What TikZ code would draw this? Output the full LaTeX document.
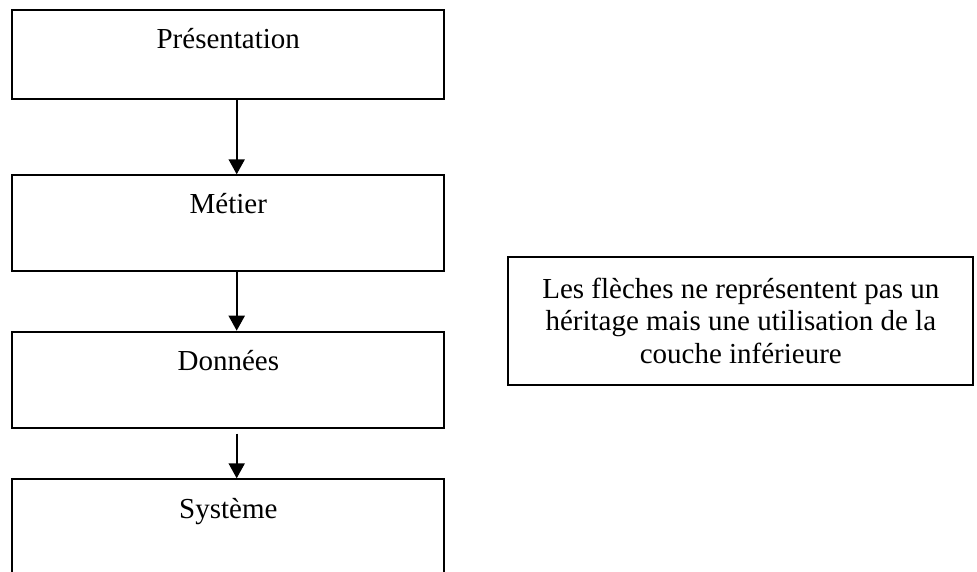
\documentclass[tikz,border=0pt]{standalone}
\usepackage{fontspec}
\setmainfont{Liberation Serif}
\usetikzlibrary{arrows.meta}
\begin{document}
\begin{tikzpicture}
  [x=1pt,y=-1pt,every node/.style={font=\fontsize{29}{32.5}\selectfont},
   layer/.style={draw,line width=2pt,inner sep=0pt,minimum width=432pt,anchor=north,text height=38.7pt},
   link/.style={line width=2pt,-{Triangle[width=16pt,length=15pt]}}]
  \useasboundingbox (0,0) rectangle (977,572);
  \node[layer,text depth=50pt] (pres) at (228.3,9) {Présentation};
  \node[layer,text depth=57pt] (metier) at (228.3,174.3) {Métier};
  \node[layer,text depth=57.3pt] (donnees) at (228.3,330.7) {Données};
  \node[layer,text depth=61.3pt] (systeme) at (228.3,478.3) {Système};

  \foreach \from/\to in {pres/metier, metier/donnees}
  \draw[link] ([xshift=8.4pt]\from.south) -- ([xshift=8.4pt]\to.north);
  \draw[link] ([xshift=8.4pt,yshift=-5pt]donnees.south) -- ([xshift=8.4pt]systeme.north);

  \node[draw,line width=2pt,minimum width=465pt,minimum height=128.3pt,align=center,anchor=north]
    (note) at (740.8,255.7) {Les flèches ne représentent pas un\\héritage mais une utilisation de la\\couche inférieure};
\end{tikzpicture}
\end{document}
